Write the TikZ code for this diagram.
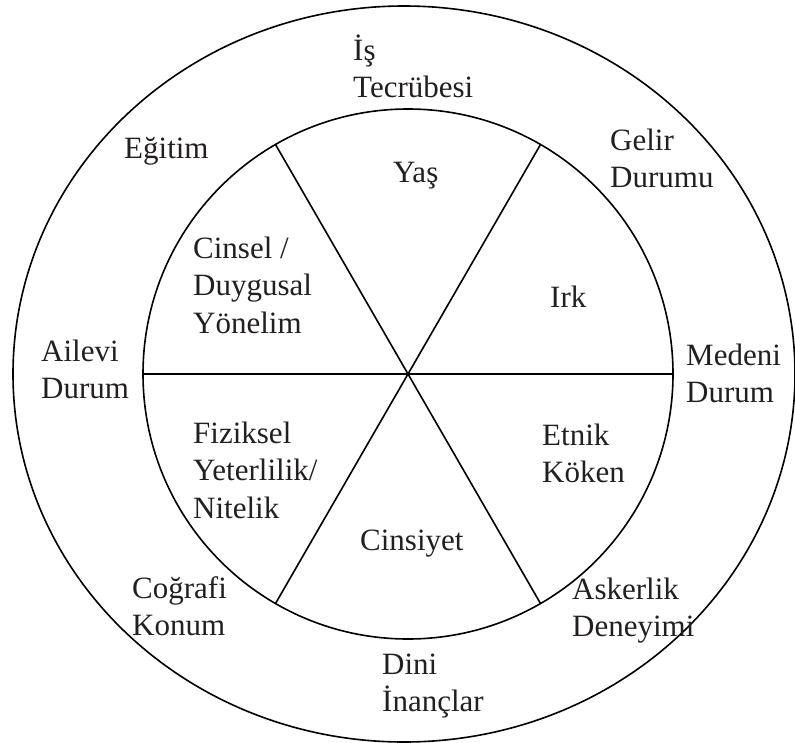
\documentclass[tikz,border=0pt]{standalone}
\usepackage{fontspec}
\setmainfont{Liberation Serif}
\definecolor{txt}{HTML}{231F20}
\begin{document}
\begin{tikzpicture}[x=1pt,y=-1pt,
  ring/.style={draw=black,line width=1.6pt},
  spoke/.style={draw=black,line width=1.6pt},
  lbl/.style={anchor=base west,inner sep=0pt,text=txt,font=\fontsize{31}{37.5}\selectfont}]
\useasboundingbox (0,0) rectangle (795,742);
\coordinate (c) at (408,374);
\draw[ring] (404,374) ellipse [x radius=391pt, y radius=368pt];
\draw[ring] (c) circle [radius=265pt];
\draw[spoke] (c) +(0:265pt) -- +(180:265pt);
\draw[spoke] (c) +(60:265pt) -- +(240:265pt);
\draw[spoke] (c) +(120:265pt) -- +(300:265pt);
% outer labels
\node[lbl] (is) at (353,60) {\vtop{\hbox{İş}\hbox{Tecrübesi}}};
\node[lbl] (egitim) at (124,158) {Eğitim};
\node[lbl] (gelir) at (610,150) {\vtop{\hbox{Gelir}\hbox{Durumu}}};
\node[lbl] (ailevi) at (41,361) {\vtop{\hbox{Ailevi}\hbox{Durum}}};
\node[lbl] (medeni) at (686,365) {\vtop{\hbox{Medeni}\hbox{Durum}}};
\node[lbl] (cografi) at (132,598) {\vtop{\hbox{Coğrafi}\hbox{Konum}}};
\node[lbl] (dini) at (382,674) {\vtop{\hbox{Dini}\hbox{İnançlar}}};
\node[lbl] (asker) at (572,599) {\vtop{\hbox{Askerlik}\hbox{Deneyimi}}};
% inner labels
\node[lbl] (yas) at (393,182) {Yaş};
\node[lbl] (irk) at (550,307) {Irk};
\node[lbl] (cinsel) at (193,258) {\vtop{\hbox{Cinsel /}\hbox{Duygusal}\hbox{Yönelim}}};
\node[lbl] (fiz) at (193,443) {\vtop{\hbox{Fiziksel}\hbox{Yeterlilik/}\hbox{Nitelik}}};
\node[lbl] (etnik) at (542,445) {\vtop{\hbox{Etnik}\hbox{Köken}}};
\node[lbl] (cins) at (360,550) {Cinsiyet};
\end{tikzpicture}
\end{document}
